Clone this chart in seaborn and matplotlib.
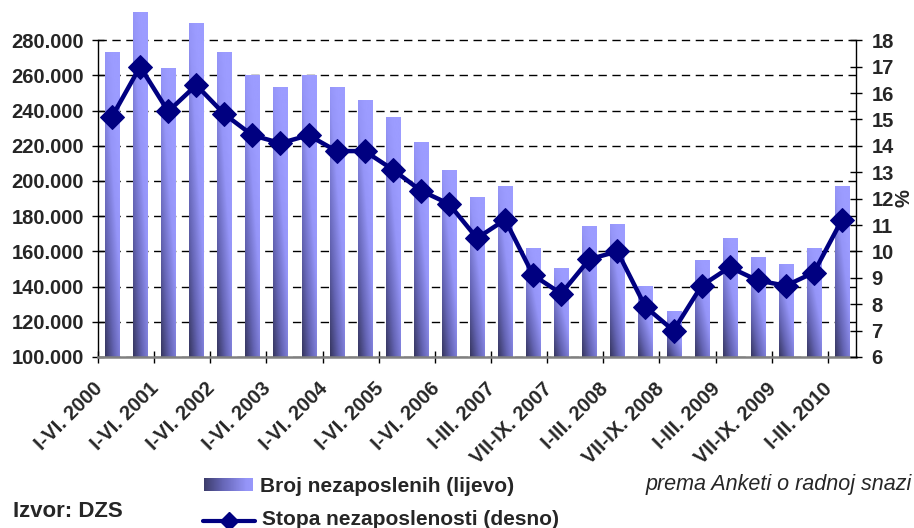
import numpy as np
import pandas as pd
import matplotlib
matplotlib.use("Agg")
import matplotlib.pyplot as plt
import matplotlib.transforms as mtransforms
from matplotlib.colors import LinearSegmentedColormap
from matplotlib.lines import Line2D
from matplotlib.ticker import FuncFormatter
import seaborn as sns

# half-year periods, then quarters from 2007
periods = ["I-VI. 2000", "VII-XII. 2000", "I-VI. 2001", "VII-XII. 2001",
           "I-VI. 2002", "VII-XII. 2002", "I-VI. 2003", "VII-XII. 2003",
           "I-VI. 2004", "VII-XII. 2004", "I-VI. 2005", "VII-XII. 2005",
           "I-VI. 2006", "VII-XII. 2006", "I-III. 2007", "IV-VI. 2007",
           "VII-IX. 2007", "X-XII. 2007", "I-III. 2008", "IV-VI. 2008",
           "VII-IX. 2008", "X-XII. 2008", "I-III. 2009", "IV-VI. 2009",
           "VII-IX. 2009", "X-XII. 2009", "I-III. 2010"]

# number of unemployed (left axis)
unemployed = [272800, 295500, 264200, 289300, 272800, 259900, 253400, 259900,
              253400, 246000, 235800, 222100, 205700, 190900, 197100, 161900,
              150500, 174400, 175500, 140200, 126000, 155000, 167500, 156700,
              152700, 161900, 197100]

# unemployment rate in % (right axis)
rate = [15.1, 17.0, 15.3, 16.3, 15.2, 14.4, 14.1, 14.4, 13.8, 13.8, 13.1, 12.3,
        11.8, 10.5, 11.2, 9.1, 8.4, 9.7, 10.0, 7.9, 7.0, 8.7, 9.4, 8.9, 8.7,
        9.2, 11.2]

left_ticks = list(range(100000, 280001, 20000))
right_ticks = list(range(6, 19))

bar_label = "Broj nezaposlenih (lijevo)"
line_label = "Stopa nezaposlenosti (desno)"
source_text = "Izvor: DZS"
note_text = "prema Anketi o radnoj snazi"


def main():
    sns.set_theme(style="white")
    plt.rcParams["font.family"] = ["Liberation Sans", "DejaVu Sans"]
    plt.rcParams["font.weight"] = "bold"

    W, H = 914, 528
    fig = plt.figure(figsize=(W / 100, H / 100), dpi=100)
    ax = fig.add_axes([98 / W, 1 - 357 / H, (856 - 98) / W, (357 - 5) / H])

    df = pd.DataFrame({"period": periods, "unemployed": unemployed, "rate": rate})
    df["pos"] = np.arange(len(df))

    ymin, ymax = 100000, 300000
    sns.barplot(data=df, x="period", y="unemployed", order=periods, ax=ax,
                width=0.5, color="#9999ff", saturation=1, linewidth=0)

    # diagonal gradient fill for every bar (dark bottom-left -> light top-right)
    cmap = LinearSegmentedColormap.from_list(
        "bars", [(0, "#36365f"), (0.35, "#6565b5"), (0.75, "#9595f8"), (1, "#9c9cff")])
    u = np.linspace(0, 1, 40)
    v = np.linspace(0, 1, 200)
    uu, vv = np.meshgrid(u, v)
    grad = np.clip(0.55 * uu + 0.75 * vv, 0, 1)
    for p in list(ax.patches):
        x0, w = p.get_x(), p.get_width()
        top = p.get_y() + p.get_height()
        ax.imshow(grad, extent=[x0, x0 + w, ymin, top], origin="lower",
                  aspect="auto", cmap=cmap, vmin=0, vmax=1, zorder=1.5)
        p.set_facecolor("none")

    ax.set_xlim(-0.5, len(periods) - 0.5)
    ax.set_ylim(ymin, ymax)
    ax.set_yticks(left_ticks)
    ax.yaxis.set_major_formatter(FuncFormatter(lambda v, _: f"{int(v):,}".replace(",", ".")))
    ax.set_axisbelow(True)
    ax.yaxis.grid(True, color="black", linestyle=(0, (6, 4)), linewidth=1)
    ax.xaxis.grid(False)
    ax.set_xlabel("")
    ax.set_ylabel("")

    # tick marks between every second category, labels on every second category
    ax.set_xticks(np.arange(-0.5, len(periods), 2))
    ax.set_xticklabels([])
    ax.set_xticks(df["pos"][::2], minor=True)
    ax.set_xticklabels(df["period"][::2], minor=True)
    ax.tick_params(axis="x", which="major", direction="inout", length=9,
                   width=1, color="black", bottom=True)
    ax.tick_params(axis="x", which="minor", length=0, labelsize=14.5, pad=0)
    offset = mtransforms.ScaledTranslation(-0.19, -0.22, fig.dpi_scale_trans)
    for lab in ax.get_xticklabels(minor=True):
        lab.set_rotation(45)
        lab.set_rotation_mode("anchor")
        lab.set_ha("right")
        lab.set_va("top")
        lab.set_fontweight("bold")
        lab.set_transform(lab.get_transform() + offset)
    ax.tick_params(axis="y", direction="inout", length=8, width=1,
                   color="black", left=True, labelsize=14.5, pad=6)
    for lab in ax.get_yticklabels():
        lab.set_fontweight("bold")

    ax.spines["top"].set_visible(False)
    ax.spines["right"].set_visible(False)
    ax.spines["left"].set_color("black")
    ax.spines["left"].set_linewidth(1)
    ax.spines["left"].set_bounds(100000, 280000)
    ax.spines["bottom"].set_color("#808080")
    ax.spines["bottom"].set_linewidth(1.8)

    # rate line on the right axis
    ax2 = ax.twinx()
    sns.lineplot(data=df, x="pos", y="rate", ax=ax2, color="#000080", linewidth=3.2,
                 marker="D", markersize=12, markeredgecolor="#000080", legend=False)
    ax2.set_ylim(6, 6 + (ymax - ymin) / 15000)
    ax2.set_xlim(-0.5, len(periods) - 0.5)
    ax2.set_yticks(right_ticks)
    ax2.set_xlabel("")
    ax2.set_ylabel("")
    ax2.grid(False)
    ax2.tick_params(axis="y", direction="inout", length=8, width=1, color="black",
                    right=True, labelsize=14.5, pad=7)
    for lab in ax2.get_yticklabels():
        lab.set_fontweight("bold")
    for s in ["top", "left", "bottom"]:
        ax2.spines[s].set_visible(False)
    ax2.spines["right"].set_color("black")
    ax2.spines["right"].set_linewidth(1)
    ax2.spines["right"].set_bounds(6, 18)

    fig.text(904 / W, 1 - 198 / H, "%", rotation=90, ha="center", va="center",
             fontsize=14.5, fontweight="bold")

    # hand-made legend below the chart
    sw = fig.add_axes([204 / W, 1 - 491 / H, 49 / W, 13 / H])
    sw.imshow(np.linspace(0, 1, 60)[None, :] * 0.8 + 0.05, aspect="auto", cmap=cmap,
              vmin=0, vmax=1)
    sw.set_axis_off()
    fig.add_artist(Line2D([203 / W, 255 / W], [1 - 521 / H, 1 - 521 / H],
                          transform=fig.transFigure, color="#000080", linewidth=3))
    fig.add_artist(Line2D([229 / W], [1 - 521 / H], transform=fig.transFigure,
                          color="#000080", marker="D", markersize=9, linestyle="none"))
    fig.text(260 / W, 1 - 492 / H, bar_label, fontsize=15, fontweight="bold",
             ha="left", va="baseline")
    fig.text(262 / W, 1 - 525 / H, line_label, fontsize=15, fontweight="bold",
             ha="left", va="baseline")

    fig.text(13 / W, 1 - 517 / H, source_text, fontsize=16, fontweight="bold",
             ha="left", va="baseline")
    fig.text(912 / W, 1 - 490 / H, note_text, fontsize=15.5, fontweight="normal",
             fontstyle="italic", ha="right", va="baseline")

    fig.savefig("out.png", dpi=100)


if __name__ == "__main__":
    main()
